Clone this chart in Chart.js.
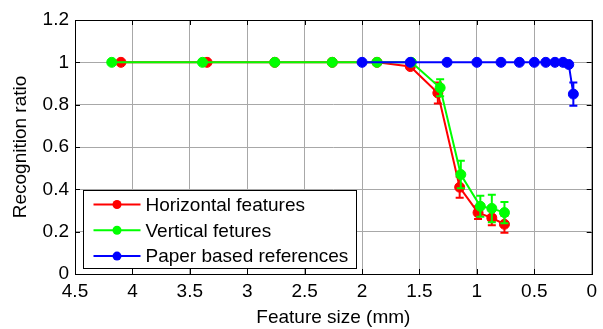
<!DOCTYPE html>
<html>
<head>
<meta charset="utf-8">
<script src="https://cdn.jsdelivr.net/npm/chart.js@4.4.1/dist/chart.umd.min.js"></script>
<style>
  html, body { margin: 0; padding: 0; background: #fff; }
  #wrap { width: 603px; height: 329px; }
</style>
</head>
<body>
<div id="wrap"><canvas id="chart"></canvas></div>
<script>
// values
const SERIES_LABELS = ['Horizontal features', 'Vertical fetures', 'Paper based references'];
const SERIES_COLORS = ['#ff0000', '#00ff00', '#0000ff'];

const horizX = [4.10, 3.35, 2.76, 2.26, 1.87, 1.58, 1.34, 1.15, 0.99, 0.87, 0.76];
const horizY = [1, 1, 1, 1, 1, 0.98, 0.855, 0.41, 0.29, 0.265, 0.235];
const horizErr = [0, 0, 0, 0, 0, 0.01, 0.05, 0.05, 0.03, 0.035, 0.04];

const vertX = [4.18, 3.39, 2.76, 2.26, 1.87, 1.57, 1.32, 1.14, 0.97, 0.87, 0.76];
const vertY = [1, 1, 1, 1, 1, 1, 0.88, 0.47, 0.32, 0.31, 0.29];
const vertErr = [0, 0, 0, 0, 0, 0, 0.04, 0.065, 0.05, 0.065, 0.05];

const paperX = [2.0, 1.58, 1.26, 1.0, 0.79, 0.63, 0.5, 0.4, 0.32, 0.25, 0.2, 0.16];
const paperY = [1, 1, 1, 1, 1, 1, 1, 1, 1, 1, 0.99, 0.85];
const paperErr = [0, 0, 0, 0, 0, 0, 0, 0, 0, 0, 0, 0.055];

const X_TICKS = [4.5, 4, 3.5, 3, 2.5, 2, 1.5, 1, 0.5, 0];
const Y_TICKS = [0, 0.2, 0.4, 0.6, 0.8, 1, 1.2];

const FONT = 'Liberation Sans, Arial, sans-serif';
const FONT_SIZE = 19;

function toPoints(xs, ys) {
    return xs.map((x, i) => ({ x: x, y: ys[i] }));
}

const ERRORS = [horizErr, vertErr, paperErr];

const errorBarPlugin = {
    id: 'errorBars',
    afterDatasetDraw(chart, args) {
        const errs = ERRORS[args.index];
        const ds = chart.data.datasets[args.index];
        const xs = chart.scales.x, ys = chart.scales.y;
        const ctx = chart.ctx;
        ctx.save();
        ctx.strokeStyle = ds.borderColor;
        ctx.lineWidth = 2;
        ds.data.forEach((p, i) => {
            const e = errs[i];
            if (!e) return;
            const px = xs.getPixelForValue(p.x);
            const top = ys.getPixelForValue(p.y + e);
            const bot = ys.getPixelForValue(p.y - e);
            ctx.beginPath();
            ctx.moveTo(px, top); ctx.lineTo(px, bot);
            ctx.moveTo(px - 4, top); ctx.lineTo(px + 4, top);
            ctx.moveTo(px - 4, bot); ctx.lineTo(px + 4, bot);
            ctx.stroke();
        });
        ctx.restore();
    }
};

const boxPlugin = {
    id: 'box',
    afterDatasetsDraw(chart) {
        const a = chart.chartArea;
        const ctx = chart.ctx;
        const xs = chart.scales.x, ys = chart.scales.y;
        ctx.save();
        ctx.strokeStyle = '#000';
        ctx.lineWidth = 1;
        ctx.strokeRect(Math.round(a.left) + 0.5, Math.round(a.top) + 0.5,
            Math.round(a.right - a.left), Math.round(a.bottom - a.top));
        // inward ticks, matlab style
        ctx.beginPath();
        X_TICKS.forEach(v => {
            const px = Math.round(xs.getPixelForValue(v)) + 0.5;
            ctx.moveTo(px, a.bottom); ctx.lineTo(px, a.bottom - 5);
            ctx.moveTo(px, a.top); ctx.lineTo(px, a.top + 5);
        });
        Y_TICKS.forEach(v => {
            const py = Math.round(ys.getPixelForValue(v)) + 0.5;
            ctx.moveTo(a.left, py); ctx.lineTo(a.left + 5, py);
            ctx.moveTo(a.right, py); ctx.lineTo(a.right - 5, py);
        });
        ctx.stroke();

        // legend
        const lx = 83.5, ly = 190.5, lw = 273, lh = 78;
        ctx.fillStyle = '#fff';
        ctx.fillRect(lx, ly, lw, lh);
        ctx.strokeRect(lx, ly, lw, lh);
        ctx.font = FONT_SIZE + 'px ' + FONT;
        ctx.textBaseline = 'middle';
        SERIES_LABELS.forEach((label, i) => {
            const y = ly + 14 + i * 25.8;
            ctx.strokeStyle = SERIES_COLORS[i];
            ctx.lineWidth = 2;
            ctx.beginPath();
            ctx.moveTo(lx + 10, y); ctx.lineTo(lx + 57, y);
            ctx.stroke();
            ctx.fillStyle = SERIES_COLORS[i];
            ctx.beginPath();
            ctx.arc(lx + 33.5, y, 4.5, 0, Math.PI * 2);
            ctx.fill();
            ctx.fillStyle = '#000';
            ctx.fillText(label, lx + 62, y + 1);
        });
        ctx.restore();
    }
};

function makeDataset(i, xs, ys, order) {
    return {
        label: SERIES_LABELS[i],
        data: toPoints(xs, ys),
        showLine: true,
        borderColor: SERIES_COLORS[i],
        backgroundColor: SERIES_COLORS[i],
        pointBackgroundColor: SERIES_COLORS[i],
        pointBorderColor: SERIES_COLORS[i],
        borderWidth: 2,
        pointRadius: 5,
        pointBorderWidth: 1,
        tension: 0,
        order: order
    };
}

new Chart(document.getElementById('chart'), {
    type: 'scatter',
    data: {
        datasets: [
            makeDataset(0, horizX, horizY, 2),
            makeDataset(1, vertX, vertY, 1),
            makeDataset(2, paperX, paperY, 0)
        ]
    },
    options: {
        responsive: true,
        maintainAspectRatio: false,
        animation: false,
        events: [],
        layout: { padding: { left: 0, top: 20, right: 8, bottom: 0 } },
        plugins: {
            legend: { display: false },
            tooltip: { enabled: false }
        },
        scales: {
            x: {
                type: 'linear',
                reverse: true,
                min: 0,
                max: 4.5,
                afterFit: scale => { scale.height = 55; },
                afterBuildTicks: scale => { scale.ticks = X_TICKS.map(v => ({ value: v })); },
                ticks: {
                    color: '#000',
                    font: { family: FONT, size: FONT_SIZE },
                    padding: 6,
                    maxRotation: 0,
                    callback: v => String(v)
                },
                grid: { color: '#a8a8a8', lineWidth: 1, tickLength: 0 },
                border: { display: false },
                title: {
                    display: true,
                    text: 'Feature size (mm)',
                    color: '#000',
                    font: { family: FONT, size: FONT_SIZE },
                    padding: { top: 0, bottom: 0 }
                }
            },
            y: {
                min: 0,
                max: 1.2,
                afterFit: scale => { scale.width = 75; },
                afterBuildTicks: scale => { scale.ticks = Y_TICKS.map(v => ({ value: v })); },
                ticks: {
                    color: '#000',
                    font: { family: FONT, size: FONT_SIZE },
                    padding: 6,
                    callback: v => String(v)
                },
                grid: { color: '#a8a8a8', lineWidth: 1, tickLength: 0 },
                border: { display: false },
                title: {
                    display: true,
                    text: 'Recognition ratio',
                    color: '#000',
                    font: { family: FONT, size: FONT_SIZE },
                    padding: { top: 9, bottom: 0 }
                }
            }
        }
    },
    plugins: [errorBarPlugin, boxPlugin]
});
</script>
</body>
</html>
